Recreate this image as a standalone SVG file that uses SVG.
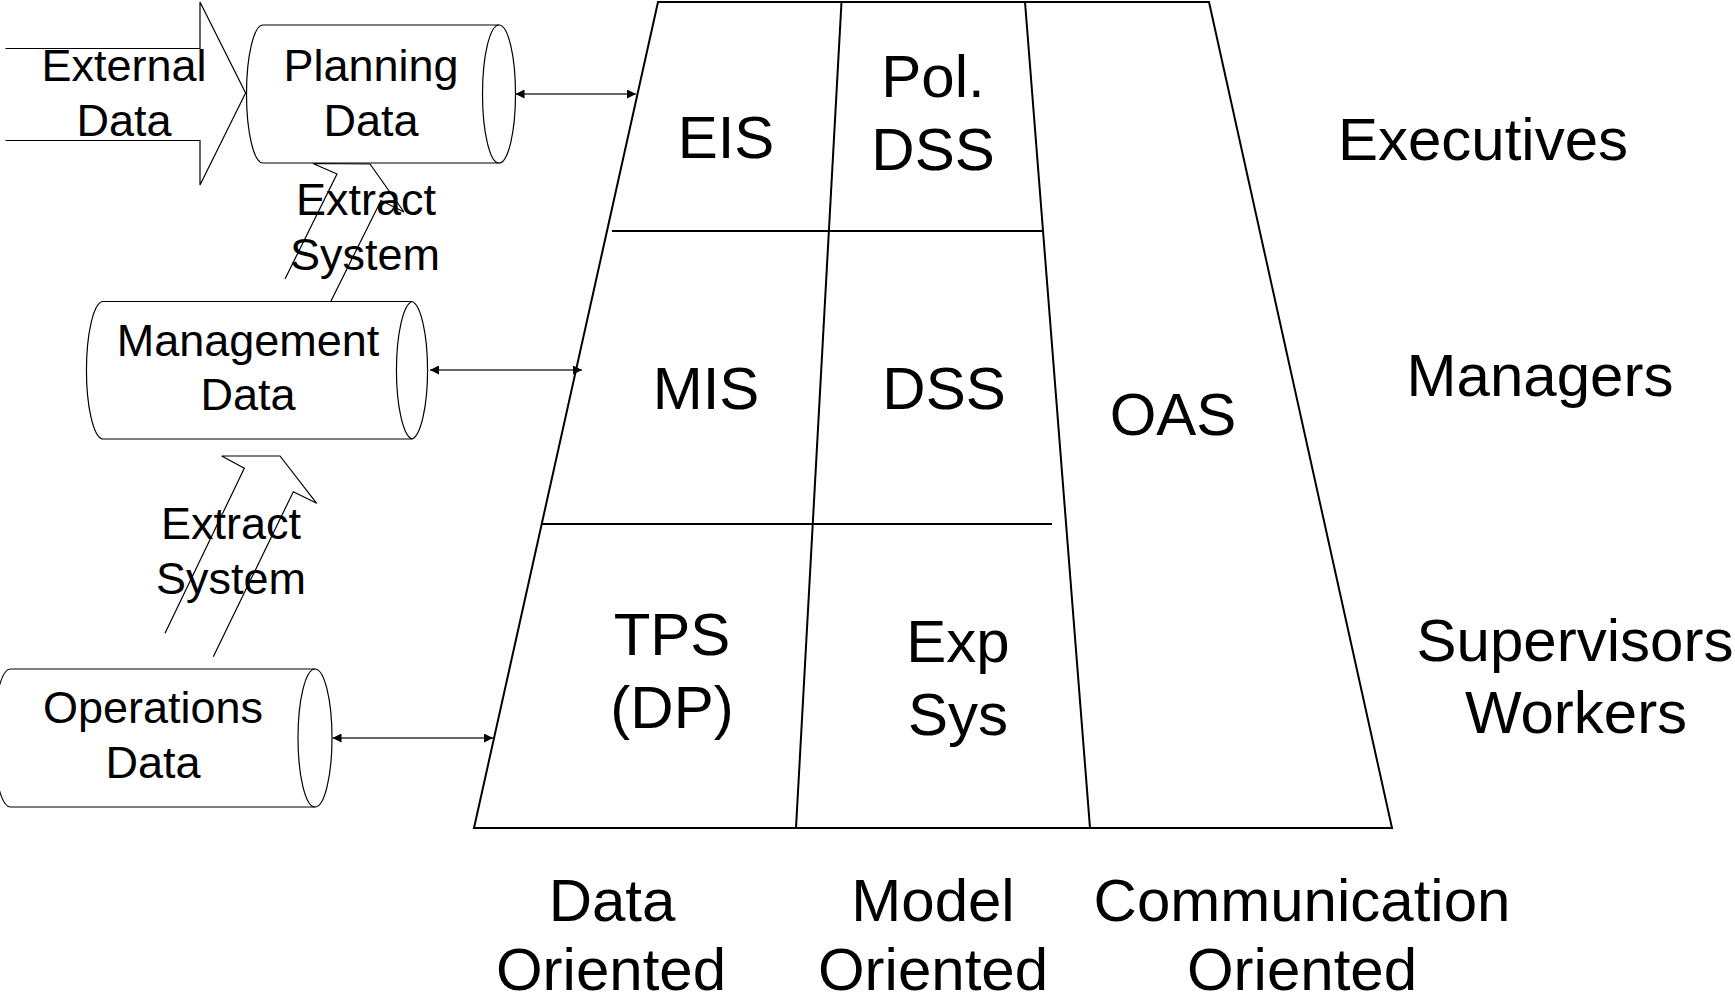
<svg xmlns="http://www.w3.org/2000/svg" width="1735" height="1004" viewBox="0 0 1735 1004">
  <defs>
    <style>
      text { font-family: "Liberation Sans", Arial, sans-serif; fill: #000; text-anchor: middle; }
      .big { font-size: 60px; }
      .small { font-size: 45px; }
      .frame { fill: none; stroke: #000; stroke-width: 2; }
      .can { fill: #fff; stroke: #000; stroke-width: 1.2; }
      .can-end { fill: none; stroke: #000; stroke-width: 1.2; }
      .block { fill: none; stroke: #000; stroke-width: 1.2; stroke-linejoin: miter; }
      .link { fill: none; stroke: #333; stroke-width: 1.6; marker-start: url(#head); marker-end: url(#head); }
    </style>
    <marker id="head" viewBox="0 0 10 10" refX="10" refY="5" markerWidth="10" markerHeight="9" markerUnits="userSpaceOnUse" orient="auto-start-reverse">
      <path d="M0,0 L10,5 L0,10 Z" fill="#000"/>
    </marker>
  </defs>

  <rect x="0" y="0" width="1735" height="1004" fill="#fff"/>

  <!-- connectors: extract block arrows and data links -->
  <g id="connectors">
    <path id="extract-upper" class="block" d="M285,279 L337,174 L313,163.5 L370,164 L404,212 L381,200.5 L330,303"/>
    <path id="extract-lower" class="block" d="M165,633.3 L244.3,468.3 L221.7,456 L280,456 L316.7,503.3 L293.3,491.7 L213.3,656.7"/>
    <line id="link-planning" class="link" x1="515.5" y1="94" x2="636" y2="94"/>
    <line id="link-management" class="link" x1="430" y1="370" x2="582" y2="370"/>
    <line id="link-operations" class="link" x1="332.5" y1="738" x2="493" y2="738"/>
    <text class="small" x="366" y="215">Extract</text>
    <text class="small" x="365" y="270">System</text>
    <text class="small" x="231" y="539">Extract</text>
    <text class="small" x="231" y="594">System</text>
  </g>

  <!-- external data feed -->
  <g id="external-data">
    <path class="block" d="M5.5,48.5 H200 V2 L245.6,93 L200,185 V140.5 H5.5"/>
    <text class="small" x="124" y="81">External</text>
    <text class="small" x="124" y="136">Data</text>
  </g>

  <!-- data stores -->
  <g id="planning-data">
    <path class="can" d="M263,25 H499 A16.5,69 0 0 1 499,163 H263 A16.5,69 0 0 1 263,25 Z"/>
    <path class="can-end" d="M499,25 A16.5,69 0 0 0 499,163"/>
    <text class="small" x="371" y="81">Planning</text>
    <text class="small" x="371" y="136">Data</text>
  </g>

  <g id="management-data">
    <path class="can" d="M102,301.5 H412 A17,69 0 0 1 412,439 H102 A17,69 0 0 1 102,301.5 Z"/>
    <path class="can-end" d="M412,301.5 A17,69 0 0 0 412,439"/>
    <text class="small" x="248" y="356">Management</text>
    <text class="small" x="248" y="410">Data</text>
  </g>

  <g id="operations-data">
    <path class="can" d="M10.5,669 H315 A17,69 0 0 1 315,807 H10.5 A17,69 0 0 1 10.5,669 Z"/>
    <path class="can-end" d="M315,669 A17,69 0 0 0 315,807"/>
    <text class="small" x="153" y="723">Operations</text>
    <text class="small" x="153" y="778">Data</text>
  </g>

  <!-- systems pyramid -->
  <g id="systems-frame">
    <polygon class="frame" points="658,2 1209,2 1392,828 474,828"/>
    <line class="frame" x1="841.5" y1="2" x2="796" y2="828"/>
    <line class="frame" x1="1025" y1="2" x2="1090" y2="828"/>
    <line class="frame" x1="612" y1="231" x2="1044" y2="231"/>
    <line class="frame" x1="542" y1="524" x2="1052" y2="524"/>
  </g>

  <g id="eis"><text class="big" x="726" y="158">EIS</text></g>
  <g id="pol-dss">
    <text class="big" x="933" y="97">Pol.</text>
    <text class="big" x="933" y="170">DSS</text>
  </g>
  <g id="mis"><text class="big" x="706" y="409">MIS</text></g>
  <g id="dss"><text class="big" x="944" y="409">DSS</text></g>
  <g id="oas"><text class="big" x="1173" y="435">OAS</text></g>
  <g id="tps">
    <text class="big" x="672" y="655">TPS</text>
    <text class="big" x="672" y="728">(DP)</text>
  </g>
  <g id="exp-sys">
    <text class="big" x="958" y="662">Exp</text>
    <text class="big" x="958" y="735">Sys</text>
  </g>

  <!-- user levels -->
  <g id="executives"><text class="big" x="1483" y="160">Executives</text></g>
  <g id="managers"><text class="big" x="1540" y="396">Managers</text></g>
  <g id="supervisors-workers">
    <text class="big" x="1575" y="661">Supervisors</text>
    <text class="big" x="1576" y="733">Workers</text>
  </g>

  <!-- column orientation labels -->
  <g id="data-oriented">
    <text class="big" x="612" y="921">Data</text>
    <text class="big" x="611" y="990">Oriented</text>
  </g>
  <g id="model-oriented">
    <text class="big" x="933" y="921">Model</text>
    <text class="big" x="933" y="990">Oriented</text>
  </g>
  <g id="communication-oriented">
    <text class="big" x="1302" y="921">Communication</text>
    <text class="big" x="1302" y="990">Oriented</text>
  </g>
</svg>
